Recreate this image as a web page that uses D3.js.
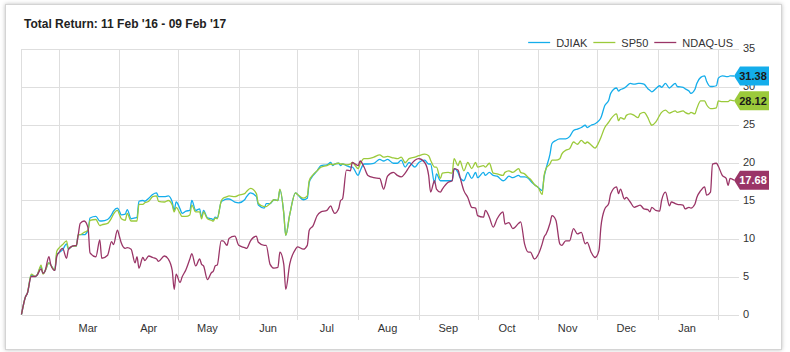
<!doctype html>
<meta charset="utf-8">
<style>
  body { margin: 0; background: #fff; font-family: Arial, "Liberation Sans", sans-serif; }
  #card {
    position: absolute; left: 5px; top: 4px; width: 775px; height: 344px;
    border: 1px solid #d4d4d4; box-shadow: 0 0 4px rgba(0,0,0,0.25); background: #fff;
  }
  svg { position: absolute; left: 0; top: 0; }
  .grid line { stroke: #dedede; stroke-width: 1; shape-rendering: crispEdges; }
  .lbl { font-size: 11px; fill: #333; }
  .series { fill: none; stroke-width: 1.3; stroke-linejoin: round; }
</style>
<div id="card"></div>
<svg id="chart" width="790" height="352"></svg>
<script src="https://d3js.org/d3.v7.min.js"></script>
<script>
// days since 11 Feb 2016
const days = [0,2,3,5,7,8,10,11,12,14,15,17,18,19,21,23,24,26,28,29,30,32,34,35,38,40,41,44,46,47,49,50,51,53,54,56,58,59,60,62,63,65,67,69,70,73,75,77,78,79,81,82,84,86,87,89,91,92,93,95,97,98,99,100,102,103,105,106,109,111,114,115,117,120,121,124,125,127,129,131,132,134,135,137,140,141,144,146,147,149,151,153,156,158,159,160,162,163,164,166,168,169,172,173,175,177,180,183,185,187,190,192,194,196,198,201,203,206,208,209,211,212,214,215,218,220,221,223,224,226,228,230,232,233,236,237,239,241,243,246,247,249,251,254,255,257,259,260,262,264,266,267,268,270,271,273,275,276,278,280,282,284,286,288,289,291,293,295,296,298,300,301,304,305,306,308,309,311,313,315,316,318,320,321,322,324,326,327,329,331,332,334,335,338,339,341,342,344,345,347,349,350,352,353,355,356,358,360,361,362,364];

const djiak = [0,2.3,2.8,5.2,5.0,5.2,6.3,5.4,5.7,6.8,6.5,5.8,7.9,8.1,8.5,9.3,8.6,9.0,9.0,10.5,10.5,10.5,11.1,12.7,12.9,12.3,12.3,12.5,13.1,13.6,14.0,13.6,13.1,13.2,13.8,12.6,12.7,12.8,14.9,15.0,14.9,15.3,15.8,16.0,15.5,15.5,15.6,14.8,13.7,14.8,13.9,13.3,13.6,13.7,15.0,13.7,13.9,12.8,13.7,12.7,12.6,12.5,12.8,12.7,14.8,15.0,15.2,15.2,14.8,14.7,15.1,15.5,16.0,15.5,14.4,14.0,14.6,14.6,15.1,15.0,16.4,13.3,10.4,13.1,16.0,15.8,15.1,15.3,17.4,18.3,18.9,19.6,19.7,20.0,19.6,19.8,19.9,19.6,19.8,19.6,19.4,19.4,18.3,18.9,19.8,19.8,19.9,20.4,20.2,20.4,19.9,19.9,20.3,19.4,20.0,19.4,20.0,20.3,19.8,19.8,17.3,18.5,17.6,17.6,17.6,17.6,19.2,18.7,18.0,17.6,18.7,17.9,18.7,18.0,18.7,18.3,18.7,18.3,18.2,17.6,17.7,18.2,18.0,18.3,18.1,18.1,17.9,17.6,17.1,16.7,16.3,18.1,19.2,21.1,22.5,22.9,23.1,23.1,23.1,23.4,24.2,24.4,24.6,24.9,24.6,24.9,25.1,25.5,25.9,27.5,28.2,29.1,29.8,29.4,29.6,29.8,30.0,30.4,30.3,30.4,30.4,30.3,29.7,29.5,29.3,29.7,30.1,29.9,30.4,29.8,30.0,30.4,30.0,29.9,29.7,29.4,29.1,29.6,30.4,31.2,31.4,30.7,30.0,30.0,30.1,31.1,31.4,31.3,31.3,31.4,31.38];

const sp50 = [0,2.3,2.8,5.3,5.0,5.2,6.5,5.3,5.7,6.8,6.5,5.8,8.3,8.7,9.2,9.7,8.6,9.0,9.0,10.5,10.5,10.8,11.1,12.4,12.5,11.7,11.8,12.0,12.7,13.2,13.7,13.2,12.6,12.4,13.3,12.3,12.3,12.3,14.5,14.5,14.7,14.9,15.5,15.6,14.9,14.8,15.0,14.4,13.5,14.1,13.3,12.9,12.9,13.1,14.4,13.5,13.5,12.6,13.5,12.6,12.4,12.3,12.7,12.6,14.9,15.3,15.5,15.6,15.5,15.7,15.9,16.2,16.6,15.9,14.6,14.2,14.2,14.6,15.1,15.0,16.5,13.3,10.4,13.1,16.0,15.8,15.3,15.6,17.6,18.4,18.9,19.4,19.6,19.8,19.7,19.8,19.9,19.8,19.8,19.7,19.8,20.0,19.2,19.8,20.5,20.5,20.7,21.0,20.7,20.8,20.6,20.5,20.7,20.0,20.5,20.7,20.9,21.1,20.9,20.3,19.4,19.4,17.9,18.6,18.7,18.6,20.5,19.6,20.2,18.9,20.0,19.2,20.0,19.4,19.6,19.4,19.9,18.6,18.5,18.3,18.7,18.9,18.7,19.2,18.7,18.5,18.0,17.8,17.1,16.7,15.8,18.3,19.2,19.8,20.3,20.3,20.5,21.1,21.6,21.8,22.7,22.4,22.9,22.5,22.7,22.3,21.9,22.7,23.3,24.6,25.3,25.7,26.4,25.5,25.9,25.7,26.2,26.4,26.2,25.9,26.4,26.6,25.9,25.3,24.9,25.3,26.2,26.6,26.9,26.5,26.6,26.8,26.6,26.8,26.6,26.4,26.6,26.4,27.1,28.1,28.1,27.6,27.1,27.1,27.2,28.1,28.0,28.0,28.0,28.2,28.12];

const ndaq = [0,2.3,2.8,5.0,5.0,5.2,6.0,5.4,5.7,7.6,6.5,5.8,7.6,8.1,8.7,7.4,8.6,9.0,9.1,10.5,12.0,12.3,11.4,8.1,7.6,9.8,7.4,7.8,9.6,9.2,11.1,10.3,9.4,8.7,8.8,8.6,6.8,7.6,6.1,7.5,7.1,7.7,7.5,7.3,7.0,7.7,7.3,5.8,3.3,5.3,4.2,4.9,5.9,7.3,8.0,6.4,7.3,6.6,6.4,4.6,5.5,5.7,6.4,6.5,9.7,9.7,9.1,10.0,10.3,9.1,8.8,8.7,9.7,10.3,9.5,9.1,9.1,6.6,6.1,6.2,8.2,6.6,3.3,6.6,8.6,8.9,8.6,9.1,11.1,11.7,13.0,13.5,13.7,14.3,13.7,13.3,13.9,15.0,15.2,19.0,18.9,20.0,19.6,20.2,19.4,18.3,18.0,17.9,16.5,18.2,18.7,18.3,18.1,18.6,19.4,20.3,20.5,20.0,18.3,16.1,17.6,16.5,16.1,16.5,17.4,17.6,19.2,19.0,18.1,16.3,15.4,14.1,14.0,13.0,12.8,13.7,12.8,11.5,12.6,13.5,11.9,12.1,11.3,12.0,12.2,9.3,8.2,8.2,7.3,7.9,9.3,10.2,10.6,12.0,13.0,12.4,9.3,9.1,9.7,9.7,11.3,10.6,10.8,9.3,9.5,8.2,7.5,8.4,11.5,13.9,14.6,15.9,16.8,15.9,16.5,15.2,15.4,14.8,14.1,14.3,14.4,13.9,13.8,13.5,14.1,13.7,13.6,15.0,16.1,14.3,14.8,14.6,14.5,14.4,13.9,14.1,14.0,14.5,15.4,16.3,16.8,15.7,16.1,19.8,19.9,19.5,18.3,17.9,17.0,17.9,17.68];

const seriesNames = ["DJIAK", "SP50", "NDAQ-US"];
const seriesColors = ["#14ADEB", "#9BCA3B", "#9A3567"];
const tagText = ["#1a1a1a", "#1a1a1a", "#ffffff"];
const yTicks = [0, 5, 10, 15, 20, 25, 30, 35];
const title = "Total Return: 11 Feb '16 - 09 Feb '17";

const start = new Date(2016, 1, 11);
const end = new Date(2017, 1, 9);
const dates = days.map(d => d3.timeDay.offset(start, d));
const allSeries = [djiak, sp50, ndaq];

const svg = d3.select("#chart");
const x = d3.scaleTime().domain([start, end]).range([21.5, 734]);
const y = d3.scaleLinear().domain([0, 35]).range([314.5, 48.5]);
const plotLeft = 21.5, plotRight = 739, plotTop = 48.5, plotBottom = 314.5;

svg.append("text").attr("x", 24).attr("y", 28)
  .style("font-size", "12px").style("font-weight", "bold").style("fill", "#222")
  .text(title);

// grid
const grid = svg.append("g").attr("class", "grid");
grid.selectAll(".h").data(yTicks).join("line")
  .attr("x1", plotLeft).attr("x2", plotRight)
  .attr("y1", d => Math.round(y(d)) + 0.5).attr("y2", d => Math.round(y(d)) + 0.5);
const months = d3.timeMonth.range(new Date(2016, 2, 1), end);
grid.selectAll(".v").data(months).join("line")
  .attr("x1", d => Math.round(x(d)) + 0.5).attr("x2", d => Math.round(x(d)) + 0.5)
  .attr("y1", plotTop).attr("y2", plotBottom + 5);
grid.append("line").attr("x1", plotLeft).attr("x2", plotLeft).attr("y1", plotTop).attr("y2", plotBottom);

// axis labels
svg.selectAll(".ylab").data(yTicks).join("text").attr("class", "lbl")
  .attr("x", 743).attr("y", d => y(d)).attr("dy", "0.35em").text(d => d);
svg.selectAll(".mlab").data(months.slice(0, -1)).join("text").attr("class", "lbl")
  .attr("x", d => x(d3.timeDay.offset(d, 15))).attr("y", 332)
  .attr("text-anchor", "middle").text(d3.timeFormat("%b"));

// lines
const line = d3.line().x((d, i) => x(dates[i])).y(d => y(d)).curve(d3.curveMonotoneX);
allSeries.forEach((s, k) => {
  svg.append("path").attr("class", "series").attr("stroke", seriesColors[k]).attr("d", line(s));
});

// end tags
allSeries.forEach((s, k) => {
  const v = s[s.length - 1], cy = y(v);
  svg.append("path").attr("fill", seriesColors[k])
    .attr("d", `M734,${cy} L740,${cy - 9.5} L769,${cy - 9.5} L769,${cy + 9.5} L740,${cy + 9.5} Z`);
  svg.append("text").attr("x", 753).attr("y", cy).attr("dy", "0.36em")
    .attr("text-anchor", "middle").style("font-size", "11px").style("font-weight", "bold")
    .style("fill", tagText[k]).text(v.toFixed(2));
});

// legend, right aligned
const legend = svg.append("g");
let lx = 733;
const items = seriesNames.map((n, k) => ({ n, k })).reverse();
items.forEach(({ n, k }) => {
  const t = legend.append("text").attr("class", "lbl").attr("y", 47).text(n);
  const w = t.node().getComputedTextLength();
  lx -= w;
  t.attr("x", lx);
  legend.append("line").attr("x1", lx - 28).attr("x2", lx - 6).attr("y1", 42.5).attr("y2", 42.5)
    .attr("stroke", seriesColors[k]).attr("stroke-width", 1.3);
  lx -= 34;
});
</script>
